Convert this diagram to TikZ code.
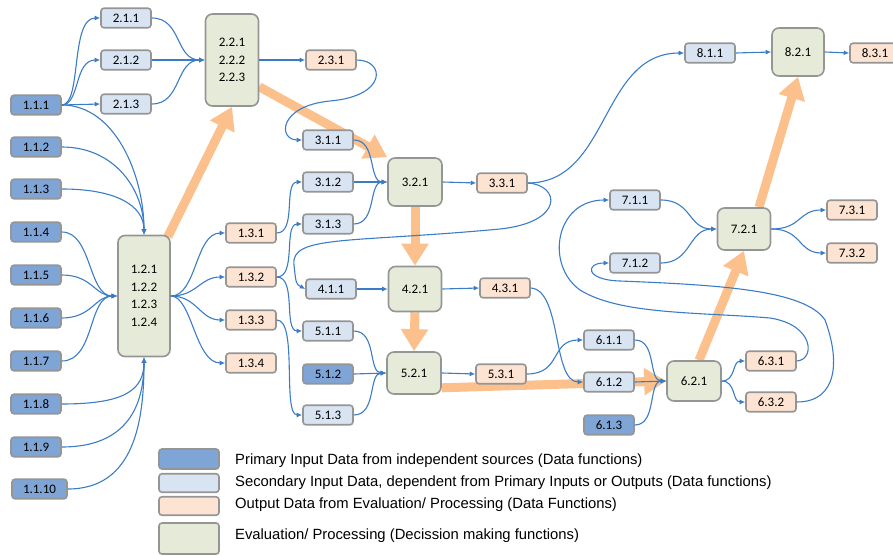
\documentclass[tikz,border=0pt]{standalone}
\usepackage{fontspec}
\usetikzlibrary{arrows.meta,backgrounds}
\newfontfamily\lblfamily{Carlito}
\newfontfamily\legfamily{Liberation Sans}
\newcommand\boxfont{\lblfamily\fontsize{13}{17.6}\selectfont}
\newcommand\legfont{\legfamily\fontsize{14.8}{16}\selectfont}
\definecolor{boxgray}{HTML}{959595}
\definecolor{primfill}{HTML}{7FA4D6}
\definecolor{secfill}{HTML}{D9E4F3}
\definecolor{outfill}{HTML}{FCE3D2}
\definecolor{evalfill}{HTML}{E5EBD8}
\definecolor{connblue}{HTML}{3A7CC6}
\definecolor{fatorange}{HTML}{FBC08C}
\tikzset{
  base/.style={draw=boxgray, line width=1.6pt, rounded corners=3pt, inner sep=0pt,
    font=\boxfont, minimum width=50pt, minimum height=19.5pt, align=center},
  prim/.style={base, fill=primfill},
  sec/.style={base, fill=secfill},
  outp/.style={base, fill=outfill},
  evalbox/.style={base, fill=evalfill, rounded corners=7pt, minimum width=53pt, minimum height=42pt},
  legbox/.style={draw=boxgray, line width=1.6pt, rounded corners=3pt, minimum width=60pt},
  legtext/.style={anchor=west, font=\legfont, inner sep=0pt},
  conn/.style={draw=connblue, line width=1.1pt, -{Latex[length=5.5pt,width=5pt]}},
  fat/.style={draw=fatorange, line width=9pt, -{Triangle[length=22pt,width=26pt]}},
}
\begin{document}
\begin{tikzpicture}[x=1pt,y=-1pt]
\useasboundingbox (0,0) rectangle (893,556);

% primary inputs
\node[prim] (n111) at (36,105) {1.1.1};
\node[prim] (n112) at (36,147) {1.1.2};
\node[prim] (n113) at (36,189) {1.1.3};
\node[prim] (n114) at (36,232) {1.1.4};
\node[prim] (n115) at (36,275) {1.1.5};
\node[prim] (n116) at (36,318) {1.1.6};
\node[prim] (n117) at (36,361) {1.1.7};
\node[prim] (n118) at (36,404) {1.1.8};
\node[prim] (n119) at (36,447) {1.1.9};
\node[prim, minimum width=55pt] (n1110) at (39.5,489) {1.1.10};

% block 1 and 2
\node[evalbox, minimum width=52pt, minimum height=121pt] (n121) at (144,296) {1.2.1\\1.2.2\\1.2.3\\1.2.4};
\node[outp] (n131) at (251,233) {1.3.1};
\node[outp] (n132) at (251,277) {1.3.2};
\node[outp] (n133) at (251,320) {1.3.3};
\node[outp] (n134) at (251,363) {1.3.4};

\node[sec] (n211) at (126,18) {2.1.1};
\node[sec] (n212) at (126,60) {2.1.2};
\node[sec] (n213) at (126,104) {2.1.3};
\node[evalbox, minimum height=92pt] (n221) at (232,60) {2.2.1\\2.2.2\\2.2.3};
\node[outp] (n231) at (331,60) {2.3.1};

% blocks 3 to 5
\node[sec] (n311) at (328,140) {3.1.1};
\node[sec] (n312) at (328,182) {3.1.2};
\node[sec] (n313) at (328,224) {3.1.3};
\node[evalbox, minimum width=54pt, minimum height=48pt] (n321) at (415,182) {3.2.1};
\node[outp] (n331) at (502,183) {3.3.1};

\node[sec] (n411) at (331,289) {4.1.1};
\node[evalbox, minimum height=45pt] (n421) at (415,289) {4.2.1};
\node[outp] (n431) at (505,288) {4.3.1};

\node[sec] (n511) at (328,331) {5.1.1};
\node[prim] (n512) at (328,374) {5.1.2};
\node[sec] (n513) at (328,415) {5.1.3};
\node[evalbox, minimum width=54pt] (n521) at (414,373) {5.2.1};
\node[outp] (n531) at (501,374) {5.3.1};

% blocks 6 to 8
\node[sec] (n611) at (609,340) {6.1.1};
\node[sec] (n612) at (609,382) {6.1.2};
\node[prim] (n613) at (609,425) {6.1.3};
\node[evalbox, minimum width=54pt, minimum height=40pt] (n621) at (694,381) {6.2.1};
\node[outp] (n631) at (771,361) {6.3.1};
\node[outp] (n632) at (771,402) {6.3.2};

\node[sec] (n711) at (635,200) {7.1.1};
\node[sec] (n712) at (635,263) {7.1.2};
\node[evalbox] (n721) at (744,229) {7.2.1};
\node[outp] (n731) at (852,210) {7.3.1};
\node[outp] (n732) at (852,253) {7.3.2};

\node[sec] (n811) at (710,53) {8.1.1};
\node[evalbox, minimum width=52pt, minimum height=48pt] (n821) at (798,52) {8.2.1};
\node[outp] (n831) at (875,53) {8.3.1};

% main processing flow
\begin{scope}[on background layer]
  \draw[fat] (n121.north east) ++(-3,2) -- (n221.south);
  \draw[fat] (n221.south east) ++(0,-20) -- (n321.north west);
  \draw[fat] (n321.south) -- (n421.north);
  \draw[fat] (n421.south) -- (n521.north);
  \draw[fat] (n521.south east) ++(0,-7) -- (n621.west);
  \draw[fat] (n621.north) ++(5,0) -- (n721.south);
  \draw[fat] (n721.north) ++(15,0) -- (n821.south);
\end{scope}

% data connections
\draw[conn] (n111.east) .. controls (82,105) and (70,18) .. (n211.west);
\draw[conn] (n111.east) .. controls (80,105) and (74,60) .. (n212.west);
\draw[conn] (n111.east) -- (n213.west);
\draw[conn] (n111.east) .. controls (115,105) and (144,175) .. (n121.north);
\draw[conn] (n112.east) .. controls (115,147) and (144,190) .. (n121.north);
\draw[conn] (n113.east) .. controls (115,189) and (144,205) .. (n121.north);
\draw[conn] (n114.east) .. controls (92,232) and (88,296) .. (n121.west);
\draw[conn] (n115.east) .. controls (92,275) and (95,296) .. (n121.west);
\draw[conn] (n116.east) .. controls (92,318) and (95,296) .. (n121.west);
\draw[conn] (n117.east) .. controls (95,361) and (88,296) .. (n121.west);
\draw[conn] (n118.east) .. controls (125,404) and (144,390) .. (n121.south);
\draw[conn] (n119.east) .. controls (128,447) and (144,405) .. (n121.south);
\draw[conn] (n1110.east) .. controls (135,489) and (144,420) .. (n121.south);

\draw[conn] (n121.east) .. controls (197,296) and (195,233) .. (n131.west);
\draw[conn] (n121.east) .. controls (197,296) and (200,277) .. (n132.west);
\draw[conn] (n121.east) .. controls (197,296) and (200,320) .. (n133.west);
\draw[conn] (n121.east) .. controls (192,296) and (195,363) .. (n134.west);

\draw[conn] (n211.east) .. controls (182,18) and (175,60) .. (n221.west);
\draw[conn] (n212.east) -- (n221.west);
\draw[conn] (n213.east) .. controls (182,104) and (175,60) .. (n221.west);
\draw[conn] (n221.east) -- (n231.west);

\draw[conn] (n231.east) .. controls (385,60) and (388,96) .. (330,101)
  .. controls (278,106) and (278,140) .. (n311.west);
\draw[conn] (n311.east) .. controls (377,140) and (368,182) .. (n321.west);
\draw[conn] (n312.east) -- (n321.west);
\draw[conn] (n313.east) .. controls (377,224) and (368,182) .. (n321.west);
\draw[conn] (n131.east) .. controls (297,233) and (283,182) .. (n312.west);
\draw[conn] (n132.east) .. controls (297,277) and (283,224) .. (n313.west);
\draw[conn] (n132.east) .. controls (297,277) and (283,331) .. (n511.west);
\draw[conn] (n133.east) .. controls (298,320) and (282,415) .. (n513.west);

\draw[conn] (n321.east) -- (n331.west);
\draw[conn] (n331.east) .. controls (610,183) and (600,53) .. (n811.west);
\draw[conn] (n331.east) .. controls (560,185) and (565,222) .. (500,229)
  .. controls (350,243) and (290,235) .. (294,265)
  .. controls (296,284) .. (n411.west);

\draw[conn] (n411.east) -- (n421.west);
\draw[conn] (n421.east) -- (n431.west);
\draw[conn] (n431.east) .. controls (562,290) and (552,382) .. (n612.west);

\draw[conn] (n511.east) .. controls (377,331) and (368,373) .. (n521.west);
\draw[conn] (n512.east) -- (n521.west);
\draw[conn] (n513.east) .. controls (377,415) and (368,373) .. (n521.west);
\draw[conn] (n521.east) -- (n531.west);
\draw[conn] (n531.east) .. controls (562,374) and (550,340) .. (n611.west);

\draw[conn] (n611.east) .. controls (657,340) and (648,381) .. (n621.west);
\draw[conn] (n612.east) -- (n621.west);
\draw[conn] (n613.east) .. controls (657,425) and (648,381) .. (n621.west);
\draw[conn] (n621.east) .. controls (736,381) and (732,361) .. (n631.west);
\draw[conn] (n621.east) .. controls (736,381) and (732,402) .. (n632.west);

\draw[conn] (n631.east) .. controls (815,360) and (815,325) .. (770,318)
  .. controls (700,312) and (620,315) .. (580,290)
  .. controls (545,265) and (555,200) .. (n711.west);
\draw[conn] (n632.east) .. controls (838,402) and (840,360) .. (825,320)
  .. controls (805,290) and (720,285) .. (620,281)
  .. controls (585,280) and (585,263) .. (n712.west);

\draw[conn] (n711.east) .. controls (692,200) and (688,229) .. (n721.west);
\draw[conn] (n712.east) .. controls (692,263) and (688,229) .. (n721.west);
\draw[conn] (n721.east) .. controls (802,229) and (798,210) .. (n731.west);
\draw[conn] (n721.east) .. controls (802,229) and (798,253) .. (n732.west);

\draw[conn] (n811.east) -- (n821.west);
\draw[conn] (n821.east) -- (n831.west);

% legend
\node[legbox, fill=primfill, minimum height=20pt] (lg1) at (189,459) {};
\node[legbox, fill=secfill, minimum height=18.5pt] (lg2) at (189,483) {};
\node[legbox, fill=outfill, minimum height=18.5pt] (lg3) at (189,506) {};
\node[legbox, fill=evalfill, minimum height=31pt] (lg4) at (189,538.5) {};
\node[legtext] (lt1) at (235,461) {Primary Input Data from independent sources (Data functions)};
\node[legtext] (lt2) at (235,483) {Secondary Input Data, dependent from Primary Inputs or Outputs (Data functions)};
\node[legtext] (lt3) at (235,505) {Output Data from Evaluation/ Processing (Data Functions)};
\node[legtext] (lt4) at (235,536) {Evaluation/ Processing (Decission making functions)};
\end{tikzpicture}
\end{document}
